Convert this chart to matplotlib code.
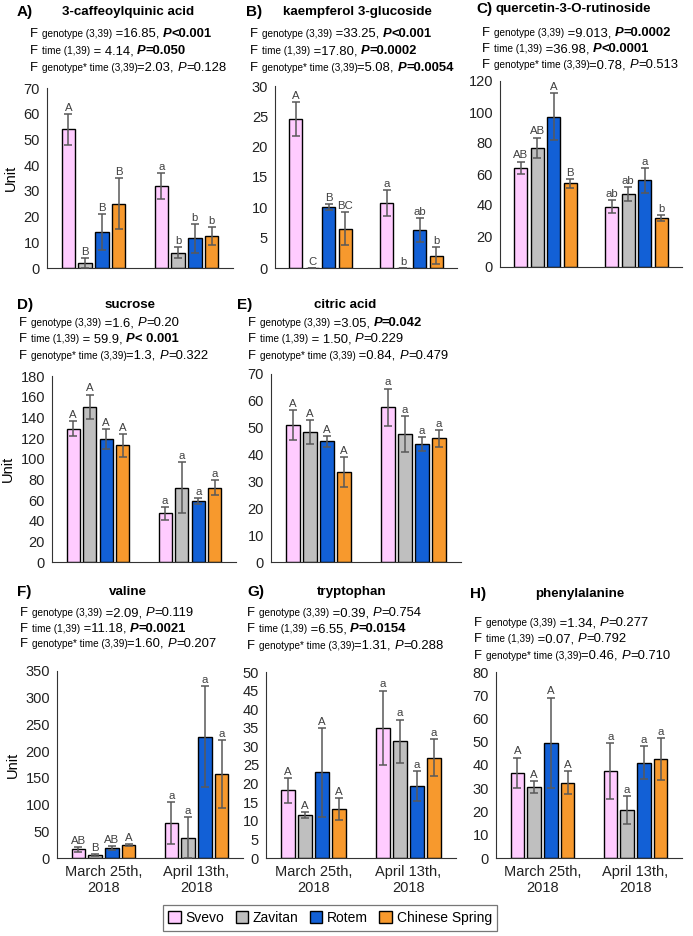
import matplotlib
matplotlib.use("Agg")
import matplotlib.pyplot as plt
from matplotlib.patches import Patch

plt.rcParams['font.family'] = ['Liberation Sans', 'DejaVu Sans']

W, H = 693, 936

genotypes = ["Svevo", "Zavitan", "Rotem", "Chinese Spring"]
colors = ["#FFCCFF", "#BFBFBF", "#1260D6", "#F7992D"]
dates = ["March 25th,\n2018", "April 13th,\n2018"]

# values per panel: [March x4, April x4]
caff_mean = [54, 2, 14, 25, 32, 6, 11.5, 12.5]
caff_err = [6, 2, 7, 10, 5, 2, 5.5, 3.5]
caff_let = ["A", "B", "B", "B", "a", "b", "b", "b"]

kaem_mean = [24.5, 0, 10, 6.5, 10.7, 0, 6.3, 2]
kaem_err = [2.8, 0, 0.5, 2.7, 2.2, 0, 2, 1.4]
kaem_let = ["A", "C", "B", "BC", "a", "b", "ab", "b"]

quer_mean = [64, 77, 97, 54, 39, 47, 56, 31.5]
quer_err = [4, 6.5, 15, 3, 4, 4.5, 8, 2]
quer_let = ["AB", "AB", "A", "B", "ab", "ab", "a", "b"]

sucr_mean = [129, 150, 119, 113, 47, 72, 59, 72]
sucr_err = [7, 12, 10, 11, 6, 25, 3, 7]
sucr_let = ["A", "A", "A", "A", "a", "a", "a", "a"]

citr_mean = [51, 48.5, 45, 33.5, 57.6, 47.7, 44, 46]
citr_err = [5.5, 4.5, 2, 5.7, 7, 6.6, 2.6, 3.2]
citr_let = ["A", "A", "A", "A", "a", "a", "a", "a"]

vali_mean = [16, 5, 19, 24, 66, 38, 227, 157]
vali_err = [5, 2, 4, 2, 39, 38, 94, 64]
vali_let = ["AB", "B", "AB", "A", "a", "a", "a", "a"]

tryp_mean = [18.2, 11.6, 23, 13.2, 35, 31.4, 19.4, 27]
tryp_err = [3.3, 0.8, 12, 3, 10, 5.8, 4, 5]
tryp_let = ["A", "A", "A", "A", "a", "a", "a", "a"]

phen_mean = [36.6, 30.5, 49.5, 32.4, 37.4, 20.6, 41, 42.7]
phen_err = [6.6, 2.6, 19.5, 5, 12, 6, 7, 9]
phen_let = ["A", "A", "A", "A", "a", "a", "a", "a"]

# stats text: (F value text, P text, bold)
stats = {
    "A": [(" =16.85, ", "<0.001", True), (" = 4.14, ", "=0.050", True), ("=2.03, ", "=0.128", False)],
    "B": [(" =33.25, ", "<0.001", True), (" =17.80, ", "=0.0002", True), ("=5.08, ", "=0.0054", True)],
    "C": [(" =9.013, ", "=0.0002", True), (" =36.98, ", "<0.0001", True), ("=0.78, ", "=0.513", False)],
    "D": [(" =1.6, ", "=0.20", False), (" = 59.9, ", "< 0.001", True), ("=1.3, ", "=0.322", False)],
    "E": [(" =3.05, ", "=0.042", True), (" = 1.50, ", "=0.229", False), (" =0.84, ", "=0.479", False)],
    "F": [(" =2.09, ", "=0.119", False), (" =11.18, ", "=0.0021", True), ("=1.60, ", "=0.207", False)],
    "G": [(" =0.39, ", "=0.754", False), (" =6.55, ", "=0.0154", True), ("=1.31, ", "=0.288", False)],
    "H": [(" =1.34, ", "=0.277", False), (" =0.07, ", "=0.792", False), ("=0.46, ", "=0.710", False)],
}
effects = ["genotype (3,39)", "time (1,39)", "genotype* time (3,39)"]

# panel layout in pixels: key, title, data, ymax, ystep, axes (l, r, top, bottom),
# label pos, title center, stats (x, y of first line, line spacing)
panels = [
    ("A", "3-caffeoylquinic acid", caff_mean, caff_err, caff_let, 70, 10, (47, 233, 88, 268), (17, 12), 128, (30, 33, 17)),
    ("B", "kaempferol 3-glucoside", kaem_mean, kaem_err, kaem_let, 30, 5, (275, 457, 86, 268), (246, 12), 357, (250, 33, 17)),
    ("C", "quercetin-3-O-rutinoside", quer_mean, quer_err, quer_let, 120, 20, (500, 682, 81, 267), (476, 9), 573, (482, 32, 16)),
    ("D", "sucrose", sucr_mean, sucr_err, sucr_let, 180, 20, (52, 236, 376, 562), (17, 305), 130, (19, 322, 16.5)),
    ("E", "citric acid", citr_mean, citr_err, citr_let, 70, 10, (271, 461, 374, 562), (237, 305), 345, (248, 322, 16.5)),
    ("F", "valine", vali_mean, vali_err, vali_let, 350, 50, (57, 243, 671, 858), (17, 592), 128, (20, 612, 15.5)),
    ("G", "tryptophan", tryp_mean, tryp_err, tryp_let, 50, 5, (266, 456, 672, 858), (247, 592), 352, (247, 612, 16.5)),
    ("H", "phenylalanine", phen_mean, phen_err, phen_let, 80, 10, (496, 682, 672, 858), (470, 594), 580, (474, 622, 16.5)),
]

fig = plt.figure(figsize=(W / 100, H / 100), dpi=100)
renderer = fig.canvas.get_renderer()


def fx(px):
    return px / W


def fy(py):
    return 1 - py / H


def text_width(s, **kw):
    t = fig.text(0, 0, s + "I", **kw)
    t2 = fig.text(0, 0, "I", **kw)
    w = t.get_window_extent(renderer).width - t2.get_window_extent(renderer).width
    t.remove()
    t2.remove()
    return w


def rich_line(x, y, parts):
    for s, kw in parts:
        fig.text(fx(x), fy(y), s, va="baseline", ha="left", **kw)
        x += text_width(s, **kw)


FS = 9.4
big = dict(fontsize=FS)
small = dict(fontsize=7.2)

bar_w = 0.143
pitch = 0.18
groups = [0, 1]

for key, title, mean, err, lets, ymax, ystep, (l, r, t, b), (lx, ly), tcx, (sx, sy, sdy) in panels:
    ax = fig.add_axes([fx(l), fy(b), fx(r - l), (b - t) / H])
    for i in range(4):
        xs = [g + (i - 1.5) * pitch for g in groups]
        ms = [mean[i], mean[i + 4]]
        es = [err[i], err[i + 4]]
        ax.bar(xs, ms, width=bar_w, color=colors[i], edgecolor="black", linewidth=1.0, zorder=2)
        ax.errorbar(xs, ms, yerr=es, fmt="none", ecolor="#595959", elinewidth=1.1,
                    capsize=3, capthick=1.1, zorder=3)
        for j, x in enumerate(xs):
            ax.text(x, ms[j] + es[j] + ymax * 0.006, lets[i + 4 * j], ha="center", va="bottom",
                    fontsize=8.2, color="#404040", zorder=4)
    ax.set_xlim(-0.5, 1.5)
    ax.set_ylim(0, ymax)
    ax.set_yticks(range(0, ymax + 1, ystep))
    ax.tick_params(axis="both", length=0, labelsize=10.5, pad=5, colors="#222222")
    for s in ["top", "right"]:
        ax.spines[s].set_visible(False)
    ax.spines["left"].set_color("#333333")
    ax.spines["bottom"].set_color("#333333")
    if key in ("F", "G", "H"):
        ax.set_xticks(groups)
        ax.set_xticklabels(dates, fontsize=10.5, linespacing=1.2)
    else:
        ax.set_xticks([])
    if key in ("A", "D", "F"):
        ax.set_ylabel("Unit", fontsize=10.5, labelpad=4)

    fig.text(fx(lx), fy(ly), key + ")", fontsize=11, fontweight="bold", va="center", ha="left")
    fig.text(fx(tcx), fy(ly), title, fontsize=9.6, fontweight="bold", va="center", ha="center")

    for k, (fval, ptxt, bold) in enumerate(stats[key]):
        eff = effects[k]
        parts = [("F ", big), (eff, small), (fval, big)]
        if bold:
            parts += [("P", dict(fontsize=FS, fontweight="bold", fontstyle="italic")),
                      (ptxt, dict(fontsize=FS, fontweight="bold"))]
        else:
            parts += [("P", dict(fontsize=FS, fontstyle="italic")), (ptxt, big)]
        rich_line(sx, sy + k * sdy + 4, parts)

handles = [Patch(facecolor=c, edgecolor="black", linewidth=1.0) for c in colors]
leg = fig.legend(handles, genotypes, loc="center", bbox_to_anchor=(fx(330), fy(918)), ncol=4,
                 fontsize=10, frameon=True, fancybox=False, edgecolor="#555555",
                 handlelength=0.9, handleheight=0.9, handletextpad=0.35, columnspacing=0.8,
                 borderpad=0.4)
leg.get_frame().set_linewidth(0.9)

fig.savefig("out.png", dpi=100)
